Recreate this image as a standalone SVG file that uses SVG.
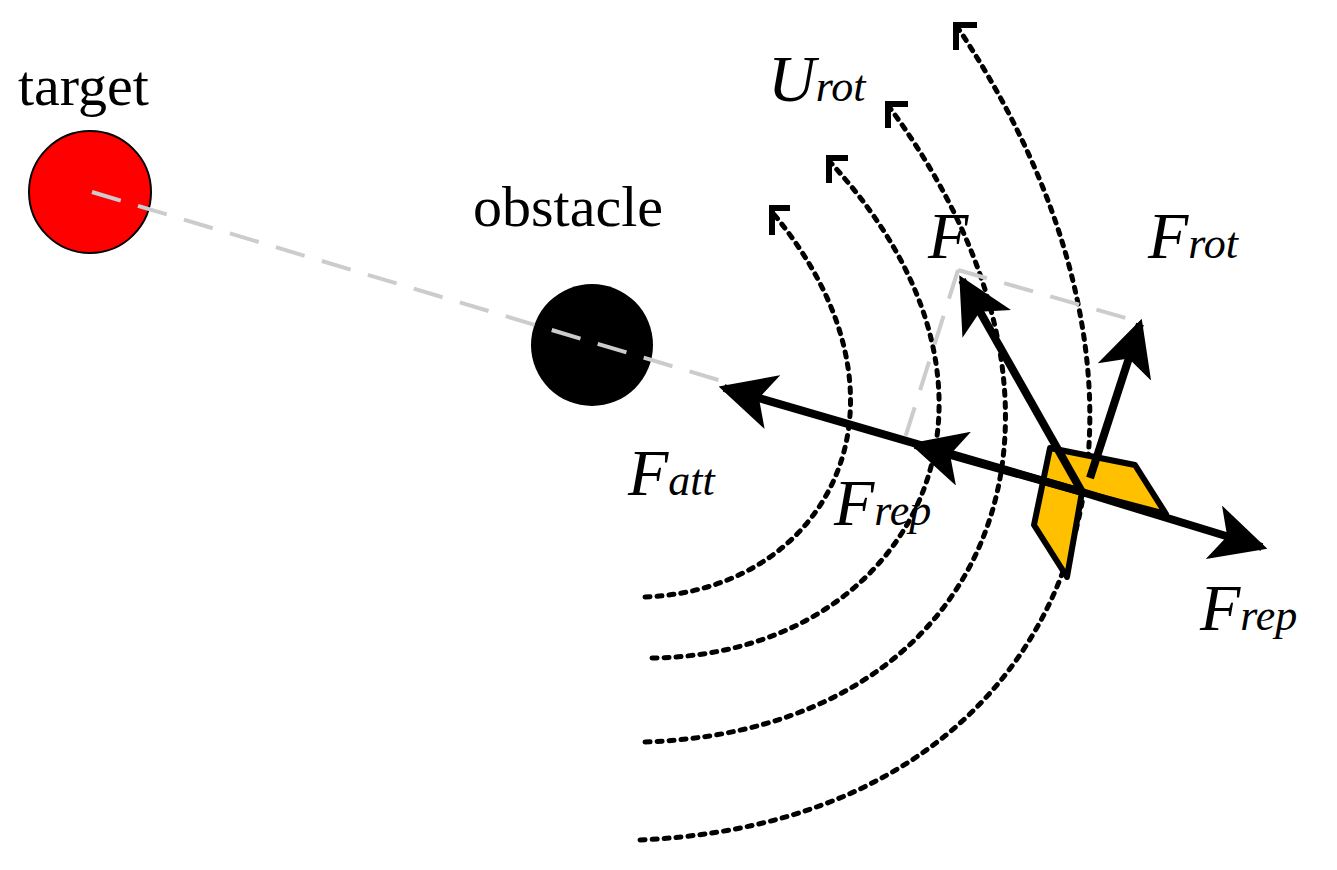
<svg xmlns="http://www.w3.org/2000/svg" width="1337" height="870" viewBox="0 0 1337 870">
<style>
.lbl{font-family:"Liberation Serif","DejaVu Serif",serif;font-size:58px}
.it{font-family:"Liberation Serif","DejaVu Serif",serif;font-style:italic;font-size:66px}
.sub{font-size:44px}
.dot{fill:none;stroke:#000;stroke-width:5;stroke-dasharray:5 7;stroke-linecap:round}
.cor{fill:none;stroke:#000;stroke-width:6}
.gd{fill:none;stroke:#ccc;stroke-width:4;stroke-dasharray:30 18}
.ar{stroke:#000;stroke-width:8;fill:none}
</style>
<defs>
<marker id="ah" viewBox="0 0 10 10" refX="9" refY="5" markerWidth="7" markerHeight="7" markerUnits="strokeWidth" orient="auto"><path d="M0,0 L10,5 L0,10 L2.5,5 Z" fill="#000"/></marker>
</defs>
<g id="target"><circle cx="90" cy="192" r="61" fill="#f00" stroke="#000" stroke-width="2"/><text class="lbl" x="18" y="105">target</text></g>
<g id="obstacle"><circle cx="592" cy="345" r="61" fill="#000"/><text class="lbl" x="473" y="226">obstacle</text></g>
<g id="fields">
<path class="dot" d="M645,597 C830,590 930,400 772,212"/>
<path class="dot" d="M652,658 C910,655 1050,400 830,162"/>
<path class="dot" d="M645,742 C990,730 1120,420 890,108"/>
<path class="dot" d="M640,840 C1080,820 1220,420 958,28"/>
<path class="cor" d="M790,208 H772 V235"/>
<path class="cor" d="M848,158 H829 V183"/>
<path class="cor" d="M908,104 H888 V128"/>
<path class="cor" d="M977,25 H956 V50"/>
</g>
<g id="robot"><path d="M1050,448 L1135,465 L1166,514 L1082,492 L1067,577 L1034,525 Z" fill="#ffc000" stroke="#000" stroke-width="6" stroke-linejoin="round"/></g>
<g id="connectors">
<path class="gd" d="M92,192 L735,385"/>
<path class="gd" d="M958,270 L1140,322"/>
<path class="gd" d="M958,270 L905,438"/>
<path class="ar" d="M1082,492 L724,388" marker-end="url(#ah)"/>
<path class="ar" d="M1082,492 L915,445" marker-end="url(#ah)"/>
<path class="ar" d="M1082,492 L1262,547" marker-end="url(#ah)"/>
<path class="ar" d="M1082,492 L962,280" marker-end="url(#ah)"/>
<path class="ar" d="M1090,478 L1140,324" marker-end="url(#ah)"/>
</g>
<g id="labels">
<text class="it" x="768" y="101">U<tspan class="sub">rot</tspan></text>
<text class="it" x="928" y="258">F</text>
<text class="it" x="1148" y="258">F<tspan class="sub">rot</tspan></text>
<text class="it" x="628" y="495">F<tspan class="sub">att</tspan></text>
<text class="it" x="834" y="525">F<tspan class="sub">rep</tspan></text>
<text class="it" x="1200" y="630">F<tspan class="sub">rep</tspan></text>
</g>
</svg>
